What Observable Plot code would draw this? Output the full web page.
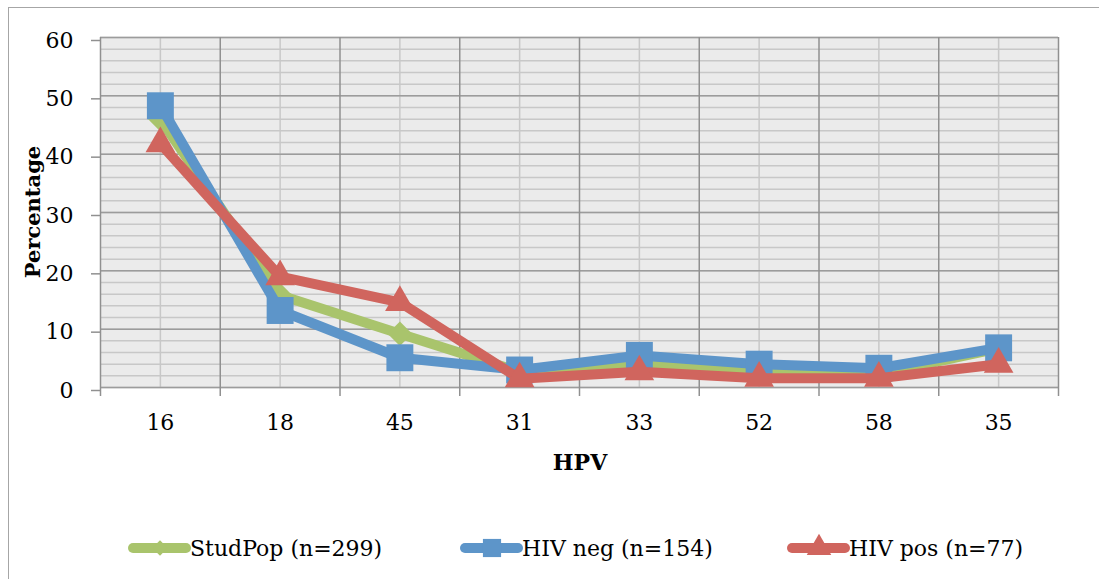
<!DOCTYPE html>
<html><head>
<meta charset="utf-8">
<script src="https://cdn.jsdelivr.net/npm/d3@7"></script>
<script src="https://cdn.jsdelivr.net/npm/@observablehq/plot@0.6"></script>
<style>
body{margin:0;background:#fff;}
#wrap{position:relative;width:1099px;height:579px;overflow:hidden;font-family:"DejaVu Serif",serif;background:#fff;}
#frame{position:absolute;left:8px;top:7px;width:1200px;height:700px;border-left:1.5px solid #a6a6a6;border-top:1.5px solid #a6a6a6;pointer-events:none;}
#chart{position:absolute;left:0;top:0;}
#legend{position:absolute;left:0;top:480px;}
</style>
</head><body>
<div id="wrap"><div id="chart"></div><div id="legend"></div><div id="frame"></div></div>
<script>
const categories = ["16","18","45","31","33","52","58","35"];
const studPop = [46.0, 15.8, 9.2, 2.7, 4.2, 2.5, 2.3, 6.7];
const hivNeg  = [48.3, 13.2, 5.1, 3.0, 5.5, 4.0, 3.3, 6.8];
const hivPos  = [41.8, 19.0, 14.6, 1.5, 2.7, 1.6, 1.6, 4.0];
const seriesNames = ["StudPop (n=299)", "HIV neg (n=154)", "HIV pos (n=77)"];
const seriesColors = ["#a9c46c", "#5d95c9", "#d0655e"];
const seriesSymbols = ["diamond2", "square", "triangle"];
const seriesR = [11, 15.2, 11];
const yTicks = [0, 10, 20, 30, 40, 50, 60];
const yMinorStep = 2;

const seriesValues = [studPop, hivNeg, hivPos];
const rows = seriesValues.map((vals, s) => vals.map((v, i) => ({i, cat: categories[i], value: v, s})));

const boundaries = d3.range(categories.length + 1).map(i => i - 0.5);
const centers = d3.range(categories.length);
const font = '"DejaVu Serif", serif';

const seriesMarks = rows.flatMap((data, s) => [
  Plot.line(data, {x: "i", y: "value", stroke: seriesColors[s], strokeWidth: 10, strokeLinejoin: "round", strokeLinecap: "round"}),
  Plot.dot(data, {x: "i", y: "value", fill: seriesColors[s], stroke: null, symbol: seriesSymbols[s], r: seriesR[s]})
]);

const chart = Plot.plot({
  width: 1099, height: 480,
  marginLeft: 100, marginRight: 41, marginTop: 37, marginBottom: 93,
  x: {type: "linear", domain: [-0.5, categories.length - 0.5], axis: null},
  y: {domain: [0, 60], axis: null},
  style: {fontFamily: font, background: "transparent", color: "#000", overflow: "visible"},
  marks: [
    Plot.frame({fill: "#ebebeb", stroke: null}),
    Plot.ruleY(d3.range(0, 61, yMinorStep), {stroke: "#c8c8c8", strokeWidth: 1.5}),
    Plot.ruleX(centers, {stroke: "#c8c8c8", strokeWidth: 1.5}),
    Plot.ruleY(yTicks, {stroke: "#9c9c9c", strokeWidth: 1.5}),
    Plot.ruleX(boundaries, {stroke: "#909090", strokeWidth: 1.5}),
    Plot.axisY({ticks: yTicks, tickSize: 9, tickPadding: 18, fontSize: 22, stroke: "#909090", strokeWidth: 1.5, fill: "#000", dy: 3, label: null}),
    Plot.axisX({ticks: boundaries, tickSize: 9, tickFormat: () => "", stroke: "#909090", strokeWidth: 1.5, label: null}),
    Plot.axisX({ticks: centers, tickSize: 0, tickPadding: 27, tickFormat: i => categories[i], fontSize: 22, fill: "#000", label: null}),
    ...seriesMarks
  ]
});
document.getElementById("chart").appendChild(chart);

// axis titles
const svg = d3.select(chart);
svg.append("text").attr("transform", "translate(40,212) rotate(-90)")
  .attr("text-anchor", "middle").attr("font-family", font).attr("font-weight", "bold")
  .attr("font-size", 21).attr("fill", "#000").text("Percentage");
svg.append("text").attr("x", 580).attr("y", 470)
  .attr("text-anchor", "middle").attr("font-family", font).attr("font-weight", "bold")
  .attr("font-size", 22).attr("fill", "#000").text("HPV");

// legend
const leg = d3.select("#legend").append("svg").attr("width", 1099).attr("height", 99);
const legX = [131, 463, 790];
const legY = 68;
const symMap = {diamond2: d3.symbolDiamond2, square: d3.symbolSquare, triangle: d3.symbolTriangle};
const legSize = [150, 330, 260];
seriesNames.forEach((name, s) => {
  const g = leg.append("g").attr("transform", `translate(${legX[s]},${legY})`);
  g.append("line").attr("x1", 2).attr("x2", 55).attr("y1", 0).attr("y2", 0)
    .attr("stroke", seriesColors[s]).attr("stroke-width", 10).attr("stroke-linecap", "round");
  g.append("path").attr("d", d3.symbol(symMap[seriesSymbols[s]], legSize[s])())
    .attr("transform", "translate(29,0)").attr("fill", seriesColors[s]);
  g.append("text").attr("x", 59).attr("y", 8).attr("font-family", font).attr("font-size", 22)
    .attr("fill", "#000").text(name);
});
</script>
</body></html>
